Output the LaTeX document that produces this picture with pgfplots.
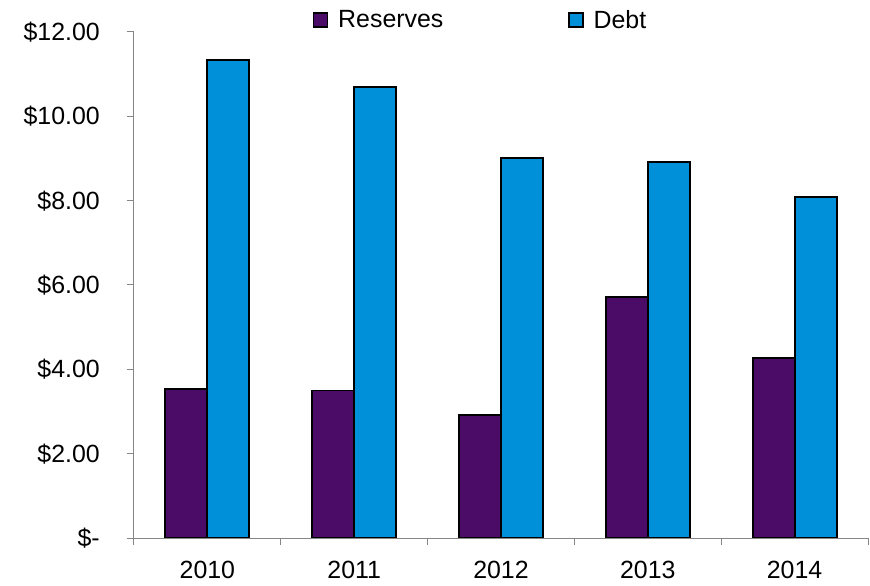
\documentclass[border=0pt]{standalone}
\usepackage{pgfplots}
\pgfplotsset{compat=1.18}
\usepackage{fontspec}
\setmainfont{Liberation Sans}
\definecolor{respurple}{RGB}{74,12,102}
\definecolor{debtblue}{RGB}{0,144,218}
\definecolor{axgray}{RGB}{134,134,134}
\begin{document}
\begin{tikzpicture}
\begin{axis}[
  name=ax,
  scale only axis,
  width=734bp, height=506bp,
  xmin=-0.5, xmax=4.5, ymin=0, ymax=12,
  enlargelimits=false,
  axis x line=bottom, axis y line=left,
  axis line style={axgray, line width=1bp, -},
  every tick/.style={axgray, line width=1bp},
  tick align=outside,
  xtick={0,1,2,3,4},
  xticklabels={2010,2011,2012,2013,2014},
  minor xtick={-0.5,0.5,1.5,2.5,3.5,4.5},
  major x tick style={draw=none},
  minor tick length=7bp,
  major tick length=7bp,
  ytick={0,2,4,6,8,10,12},
  yticklabels={\$-\hspace{14bp},\$2.00,\$4.00,\$6.00,\$8.00,\$10.00,\$12.00},
  tick label style={font=\fontsize{25}{29}\selectfont},
  xticklabel style={inner sep=0pt, anchor=north, yshift=-16bp},
  yticklabel style={inner sep=0pt, anchor=east, xshift=-27bp},
  ybar=0pt, bar width=42bp,
  legend columns=2,
  legend style={draw=none, fill=none, inner sep=0pt, outer sep=0pt,
    at={(rel axis cs:0.2439,1.0237)}, anchor=west,
    font=\fontsize{25}{29}\selectfont,
    /tikz/every odd column/.append style={column sep=10bp},
    /tikz/every even column/.append style={column sep=125bp},
    nodes={inner sep=0pt}},
  legend image code/.code={\draw[#1, draw=black, line width=1.2bp] (0bp,-7bp) rectangle (14bp,7bp);},
]
\addplot[fill=respurple, draw=black, line width=1.8bp] coordinates {(0,3.54) (1,3.50) (2,2.91) (3,5.71) (4,4.27)};
\addplot[fill=debtblue, draw=black, line width=1.8bp] coordinates {(0,11.33) (1,10.70) (2,9.02) (3,8.92) (4,8.09)};
\legend{Reserves,Debt}
\end{axis}
\pgfresetboundingbox
\path ([xshift=-134bp,yshift=-48bp]ax.south west) rectangle ([xshift=2bp,yshift=32bp]ax.north east);
\end{tikzpicture}
\end{document}
